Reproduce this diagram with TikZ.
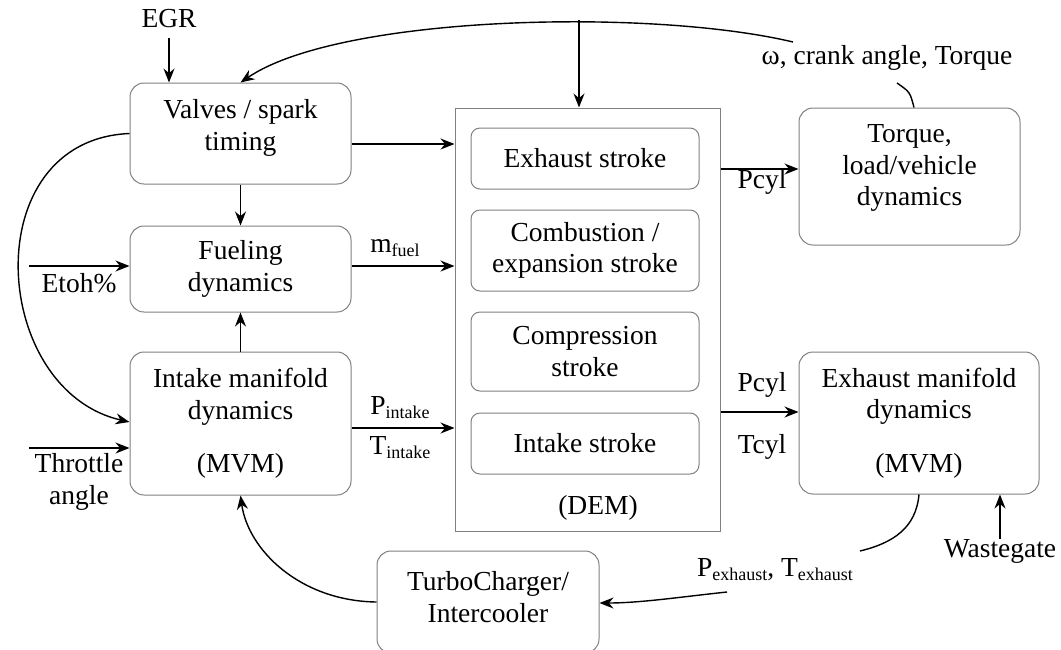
\documentclass[tikz,border=0pt]{standalone}
\usepackage{fontspec}
\setmainfont{Liberation Serif}
\usetikzlibrary{arrows.meta}
\newcommand{\mysub}[1]{\raisebox{-4pt}{\fontsize{18}{18}\selectfont #1}}
\begin{document}
\begin{tikzpicture}[x=1pt,y=-1pt,
  box/.style={draw=black!50, line width=1pt, rounded corners=14pt, align=center, inner sep=0pt},
  sbox/.style={draw=black!50, line width=1pt, rounded corners=9pt, align=center, inner sep=0pt, minimum width=228pt},
  plain/.style={draw=black!50, line width=1pt, inner sep=0pt},
  txt/.style={align=center, inner sep=0pt},
  arr/.style={-{Stealth[length=14pt,width=11pt]}, line width=1.4pt},
  ln/.style={line width=1.4pt},
  every node/.append style={font=\fontsize{27.5}{31.5}\selectfont}]
\useasboundingbox (0,0) rectangle (1061,649);

% boxes
\node[box, minimum width=221pt, minimum height=101pt] (valves) at (240.5,133.5) {};
\node[txt] (valvestxt) at (240.5,128) {Valves / spark\\timing};
\node[box, minimum width=221pt, minimum height=86pt] (fuel) at (240.5,269) {Fueling\\dynamics};
\node[box, minimum width=221pt, minimum height=143pt] (intake) at (240.5,423.5) {Intake manifold\\dynamics\\[22pt](MVM)};
\node[plain, minimum width=265pt, minimum height=423pt] (dem) at (587.5,319.5) {};
\node[sbox, minimum height=61pt] (exs) at (585,158.5) {Exhaust stroke};
\node[sbox, minimum height=81pt] (comb) at (585,250.5) {Combustion /\\expansion stroke};
\node[sbox, minimum height=79pt] (comp) at (585,351.5) {Compression\\stroke};
\node[sbox, minimum height=61pt] (ints) at (585,443.5) {Intake stroke};
\node[txt] (demlbl) at (598,508) {(DEM)};
\node[box, minimum width=221pt, minimum height=137pt] (torque) at (909.5,176.5) {};
\node[txt] (torquetxt) at (909.5,168) {Torque,\\load/vehicle\\dynamics};
\node[box, minimum width=240pt, minimum height=142pt] (exh) at (919,423) {Exhaust manifold\\dynamics\\[22pt](MVM)};
\node[box, minimum width=222pt, minimum height=102pt] (turbo) at (488,602) {};
\node[txt] (turbotxt) at (488,597) {TurboCharger/\\Intercooler};

% labels
\node[txt] (egr) at (169,19) {EGR};
\node[txt] (etoh) at (79,283) {Etoh\%};
\node[txt] (throttle) at (79,482) {Throttle\\angle};
\node[txt] (mfuel) at (395,248) {m\mysub{fuel}};
\node[txt] (pint) at (400,408) {P\mysub{intake}};
\node[txt] (tint) at (400,448) {T\mysub{intake}};
\node[txt] (pcyla) at (762,182) {Pcyl};
\node[txt] (pcylb) at (762,385) {Pcyl};
\node[txt] (tcyl) at (762,447) {Tcyl};
\node[txt] (omega) at (887,58) {ω, crank angle, Torque};
\node[txt] (pexh) at (775,570) {P\mysub{exhaust}, T\mysub{exhaust}};
\node[txt] (waste) at (1000,551) {Wastegate};

% connector end points
\coordinate (wend) at (793,42);
\coordinate (tap) at (579,20);
\coordinate (omtail) at (897,83);
\coordinate (etohin) at (29,266);
\coordinate (thrin) at (29,448);
\coordinate (pexin) at (860,551);
\coordinate (pexout) at (727,592);

% connectors
\draw[arr] ([yshift=-10pt]egr.south) -- (egr.south |- valves.north);
\draw[arr] (wend) .. controls (650,8) and (340,15) .. (valves.north);
\draw[arr] (tap) -- (tap |- dem.north);
\draw[ln] (omtail) .. controls (910,92) .. ([xshift=4.5pt]torque.north);
\draw[arr] (valves.east |- 0,144) -- (dem.west |- 0,144);
\draw[arr] (valves.south) -- (fuel.north);
\draw[arr] (etohin) -- (etohin -| fuel.west);
\draw[arr] (fuel.east |- 0,266) -- (dem.west |- 0,266);
\draw[arr] (intake.north) -- (fuel.south);
\draw[arr] (valves.west) .. controls (-25,140) and (-10,390) .. (intake.west |- 0,422);
\draw[arr] (thrin) -- (thrin -| intake.west);
\draw[arr] (intake.east |- 0,428) -- (dem.west |- 0,428);
\draw[arr] (dem.east |- 0,169) -- (torque.west |- 0,169);
\draw[arr] (dem.east |- 0,412) -- (exh.west |- 0,412);
\draw[ln] (exh.south) .. controls (916,528) and (893,543) .. (pexin);
\draw[arr] (pexout) .. controls (680,597) and (640,603) .. (turbo.east |- 0,603);
\draw[arr] (turbo.west) .. controls (300,601) and (248,550) .. (intake.south);
\draw[arr] (waste.north) -- (waste.north |- exh.south);
\end{tikzpicture}
\end{document}
